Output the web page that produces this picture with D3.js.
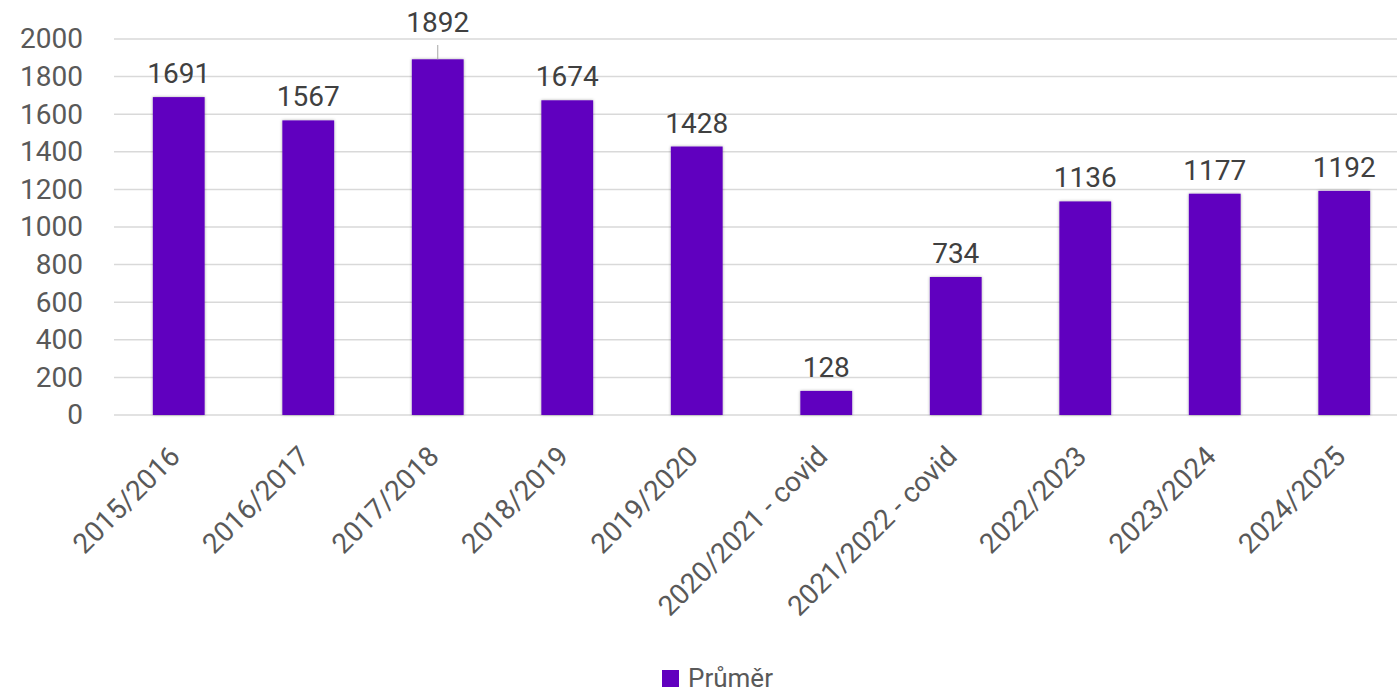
<html>
    <head>
        <meta charset="utf-8">
        <title>Průměr</title>
        <style type="text/css">
            body{
                padding:0px;
                margin:0px;
                background:#fff;
            }
            svg{
                font-family:Roboto, "Noto Sans", sans-serif;
            }
            .grid line{
                stroke:#d9d9d9;
                stroke-width:1.5px;
            }
        </style>
        <script src="https://d3js.org/d3.v7.min.js"></script>
        <script type="text/javascript">
            var categories=["2015/2016","2016/2017","2017/2018","2018/2019","2019/2020","2020/2021 - covid","2021/2022 - covid","2022/2023","2023/2024","2024/2025"];
            var values=[1691,1567,1892,1674,1428,128,734,1136,1177,1192];
            var yTicks=[0,200,400,600,800,1000,1200,1400,1600,1800,2000];
            var seriesName="Průměr";

            window.onload=function()
            {
                var W=1397, H=696;
                var left=114, right=1409, top=39, bottom=415;

                var svg=d3.select("body").append("svg").attr("width",W).attr("height",H);

                var defs=svg.append("defs");
                var f=defs.append("filter").attr("id","shadow").attr("x","-20%").attr("y","-20%").attr("width","140%").attr("height","140%");
                f.append("feDropShadow").attr("dx",0).attr("dy",0).attr("stdDeviation",1.6).attr("flood-color","#000").attr("flood-opacity",0.35);

                var x=d3.scaleBand().domain(categories).range([left,right]).paddingInner(0.6).paddingOuter(0.3);
                var y=d3.scaleLinear().domain([0,2000]).range([bottom,top]);

                // gridlines
                svg.append("g").attr("class","grid").selectAll("line").data(yTicks).enter().append("line")
                    .attr("x1",left).attr("x2",right)
                    .attr("y1",function(d){return y(d);}).attr("y2",function(d){return y(d);});

                // y axis labels
                var yAxis=d3.axisLeft(y).tickValues(yTicks).tickSize(0).tickPadding(31).tickFormat(d3.format("d"));
                var ya=svg.append("g").attr("transform","translate("+left+",0)").call(yAxis);
                ya.select(".domain").remove();
                ya.selectAll("text").attr("font-size",28).attr("fill","#595959").attr("font-family","Roboto, sans-serif");

                // bars
                svg.append("g").selectAll("rect").data(values).enter().append("rect")
                    .attr("x",function(d,i){return x(categories[i]);})
                    .attr("width",x.bandwidth())
                    .attr("y",function(d){return y(d);})
                    .attr("height",function(d){return y(0)-y(d);})
                    .attr("fill","#6100BF")
                    .attr("filter","url(#shadow)");

                // value labels, the tallest one is pushed up with a leader line
                var maxV=d3.max(values);
                svg.append("g").selectAll("text").data(values).enter().append("text")
                    .attr("x",function(d,i){return x(categories[i])+x.bandwidth()/2;})
                    .attr("y",function(d){return d==maxV? 32 : y(d)-14;})
                    .attr("text-anchor","middle")
                    .attr("font-size",28)
                    .attr("fill","#404040")
                    .text(function(d){return d;});
                values.forEach(function(d,i){
                    if(d==maxV){
                        var cx=x(categories[i])+x.bandwidth()/2;
                        svg.append("line").attr("x1",cx).attr("x2",cx).attr("y1",45).attr("y2",y(d))
                            .attr("stroke","#a6a6a6").attr("stroke-width",1);
                    }
                });

                // x labels rotated
                svg.append("g").selectAll("text").data(categories).enter().append("text")
                    .attr("transform",function(d){return "translate("+(x(d)+x.bandwidth()/2+3)+",458) rotate(-45)";})
                    .attr("text-anchor","end")
                    .attr("font-size",28)
                    .attr("fill","#595959")
                    .text(function(d){return d;});

                // legend
                var lg=svg.append("g").attr("transform","translate(662,670)");
                lg.append("rect").attr("width",17).attr("height",17).attr("fill","#6100BF");
                lg.append("text").attr("x",26).attr("y",17).attr("font-size",26).attr("fill","#595959").text(seriesName);
            }
        </script>
    </head>
    <body>
    </body>
</html>
